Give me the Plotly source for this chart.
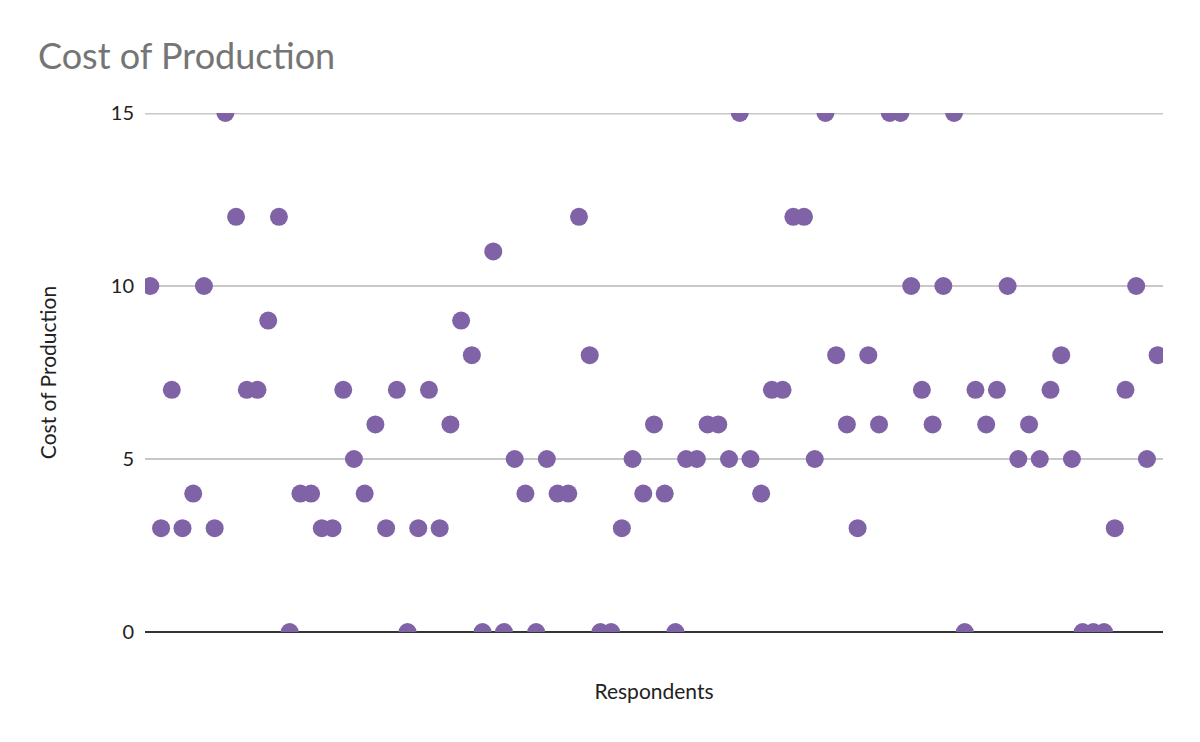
import plotly.graph_objects as go

respondents = list(range(1, 96))
cost = [10, 3, 7, 3, 4, 10, 3, 15, 12, 7,
        7, 9, 12, 0, 4, 4, 3, 3, 7, 5,
        4, 6, 3, 7, 0, 3, 7, 3, 6, 9,
        8, 0, 11, 0, 5, 4, 0, 5, 4, 4,
        12, 8, 0, 0, 3, 5, 4, 6, 4, 0,
        5, 5, 6, 6, 5, 15, 5, 4, 7, 7,
        12, 12, 5, 15, 8, 6, 3, 8, 6, 15,
        15, 10, 7, 6, 10, 15, 0, 7, 6, 7,
        10, 5, 6, 5, 7, 8, 5, 0, 0, 0,
        3, 7, 10, 5, 8]
y_ticks = [0, 5, 10, 15]

fig = go.Figure(go.Scatter(
    x=respondents, y=cost, mode="markers",
    marker=dict(color="#7f63a6", size=18, line=dict(width=0)),
    cliponaxis=True,
))

fig.update_layout(
    width=1192, height=734,
    paper_bgcolor="white", plot_bgcolor="white",
    margin=dict(l=137, r=37, t=105, b=110),
    font=dict(family="Lato, Carlito, sans-serif", color="#222222"),
    title=dict(text="Cost of Production", x=30/1192, xref="container", xanchor="left",
               y=1 - 48/734, yref="container", yanchor="middle",
               font=dict(size=36, color="#757575")),
    showlegend=False,
)
# top gridline (plotly omits it at the range edge)
fig.add_shape(type="line", xref="paper", x0=0, x1=1, yref="y", y0=y_ticks[-1], y1=y_ticks[-1],
              line=dict(color="#c8c8c8", width=3), layer="below")
fig.update_xaxes(range=[0.5, 95.5], showticklabels=False, showgrid=False, zeroline=False,
                 showline=False, ticks="",
                 title=dict(text="Respondents", font=dict(size=21, color="#222222"), standoff=52))
fig.update_yaxes(range=[0, 15], tickvals=y_ticks, showgrid=True, gridcolor="#c8c8c8", gridwidth=1.5,
                 zeroline=True, zerolinecolor="#333333", zerolinewidth=2, showline=False,
                 tickfont=dict(size=20, color="#222222"), ticks="", ticklen=0,
                 ticklabelstandoff=10,
                 title=dict(text="Cost of Production", font=dict(size=21, color="#222222"), standoff=48))

fig.write_html("out.html")
